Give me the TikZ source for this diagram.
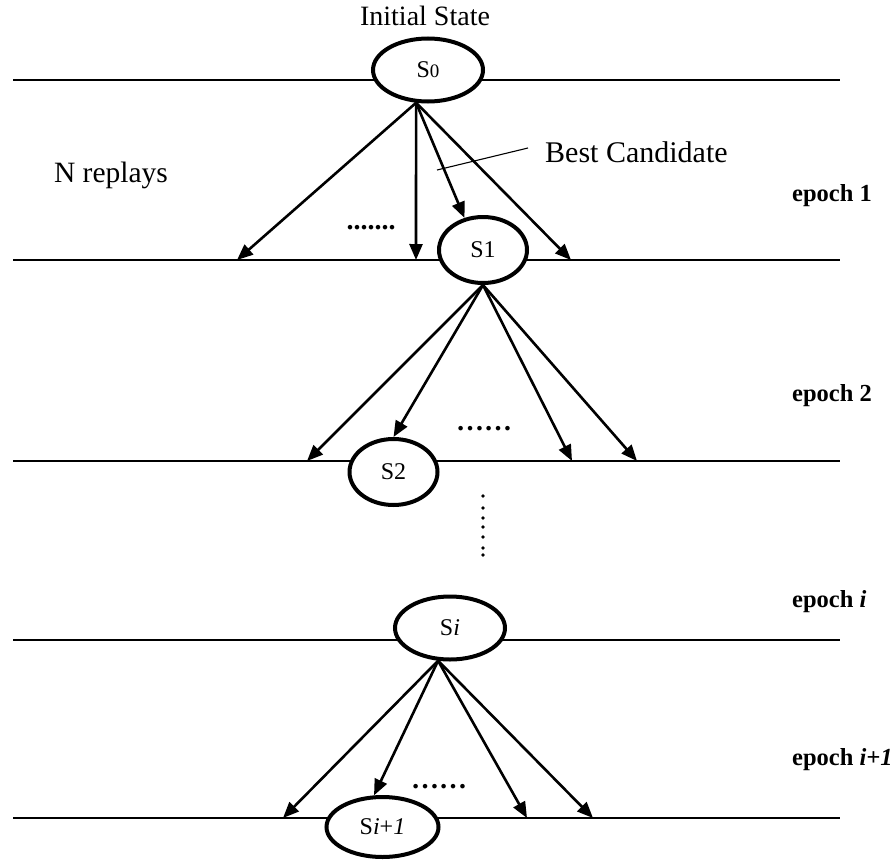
\documentclass[tikz,border=0pt]{standalone}
\usepackage{fontspec}
\setmainfont{Liberation Serif}
\usetikzlibrary{shapes.geometric,arrows.meta}

\begin{document}
\begin{tikzpicture}[x=1pt,y=-1pt,
  level/.style={line width=1.5pt},
  state/.style={ellipse,draw,line width=4pt,fill=white,inner sep=0pt,
    font=\fontsize{24}{26}\selectfont},
  replay/.style={line width=2.6pt,-{Triangle[length=16pt,width=13pt]}},
  txt/.style={font=\fontsize{28}{30}\selectfont,inner sep=0pt,anchor=base},
  epoch/.style={font=\fontsize{24.5}{26}\selectfont\bfseries,inner sep=0pt,anchor=base west},
  dots/.style={font=\fontsize{28}{30}\selectfont\bfseries,inner sep=0pt,anchor=base},
  leader/.style={line width=1.1pt},
]
\useasboundingbox (0,0) rectangle (893,864);

% epoch boundaries
\draw[level] (13,80)  -- (840,80);
\draw[level] (13,260) -- (840,260);
\draw[level] (13,461) -- (840,461);
\draw[level] (13,640) -- (840,640);
\draw[level] (13,818) -- (840,818);

% states
\node[state,minimum width=110pt,minimum height=63pt] (S0) at (428,70) {S{\fontsize{19}{20}\selectfont 0}};
\node[state,minimum width=88pt,minimum height=66pt] (S1) at (483,250) {S1};
\node[state,minimum width=88pt,minimum height=66pt] (S2) at (393.5,472) {S2};
\node[state,minimum width=110pt,minimum height=63pt] (Si) at (450,628) {S\textit{i}};
\node[state,minimum width=112pt,minimum height=60pt] (Si1) at (382.5,827) {S\textit{i}+\textit{1}};

% replay end points
\coordinate (a1) at (237,260);
\coordinate (a2) at (416,260);
\coordinate (a3) at (571,260);
\coordinate (b1) at (307,461);
\coordinate (b2) at (572,461);
\coordinate (b3) at (637,461);
\coordinate (c1) at (283,818);
\coordinate (c2) at (527,818);
\coordinate (c3) at (593,818);

% replays from the initial state
\draw[replay] (S0.250) -- (a1);
\draw[replay] (S0.250) -- (a2);
\draw[replay] (S0.250) -- (S1.120);
\draw[replay] (S0.250) -- (a3);

% replays from S1
\draw[replay] (S1.south) -- (b1);
\draw[replay] (S1.south) -- (S2.north);
\draw[replay] (S1.south) -- (b2);
\draw[replay] (S1.south) -- (b3);

% replays from Si
\draw[replay] (Si.250) -- (c1);
\draw[replay] (Si.250) -- (Si1.105);
\draw[replay] (Si.250) -- (c2);
\draw[replay] (Si.250) -- (c3);

% labels
\node[txt] (init) at (425,26) {Initial State};
\node[txt,font=\fontsize{29.5}{31}\selectfont] (nrep) at (111,182) {N replays};
\node[txt,font=\fontsize{30}{32}\selectfont,anchor=base west] (best) at (545,162) {Best Candidate};
\coordinate (bcA) at (437,170);
\coordinate (bcB) at (528,148);
\draw[leader] (bcA) -- (bcB);

\node[epoch] (e1) at (792,201) {epoch 1};
\node[epoch] (e2) at (792,401) {epoch 2};
\node[epoch] (ei) at (792,607) {epoch \textit{i}};
\node[epoch] (ei1) at (792,765) {epoch \textit{i+1}};

% elided replays
\node[dots] (d1) at (371,229) {.......};
\node[dots] (d2) at (484,430) {……};
\node[dots] (d3) at (439,788) {……};

% elided epochs
\foreach \yy in {496,508,518,527,537,548,555}
  \fill (483,\yy) circle (1.8);
\end{tikzpicture}
\end{document}
